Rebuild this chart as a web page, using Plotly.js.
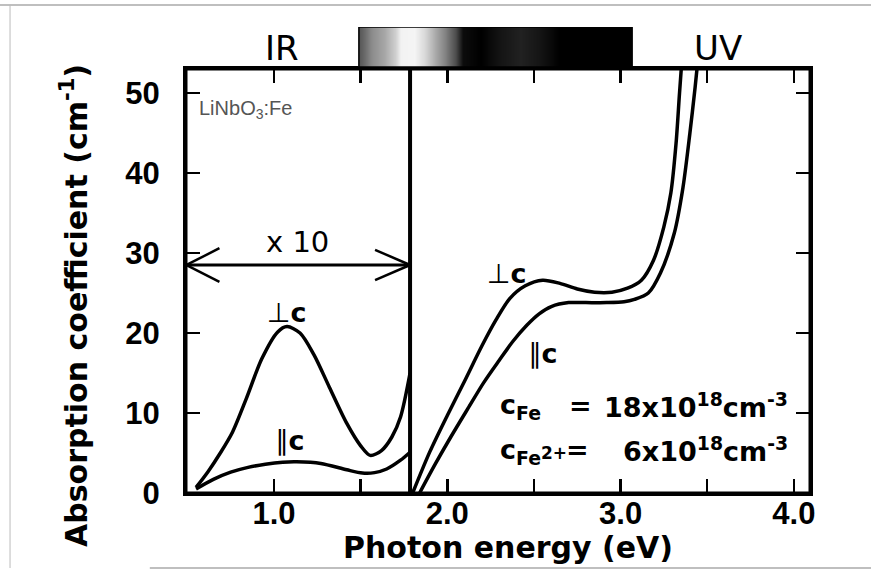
<!DOCTYPE html>
<html>
<head>
<meta charset="utf-8">
<script src="https://cdn.plot.ly/plotly-3.0.1.min.js"></script>
<style>html,body{margin:0;padding:0;background:#fff;}#chart{width:871px;height:576px;}</style>
</head>
<body>
<div id="chart"></div>
<script>
// IR region (values x10)
const ePerpIR = [0.55, 0.62, 0.69, 0.76, 0.84, 0.93, 1.02, 1.075, 1.15, 1.23, 1.32, 1.42, 1.50, 1.555, 1.62, 1.68, 1.73, 1.785];
const aPerpIR = [0.7, 2.7, 5.0, 7.6, 11.8, 16.8, 20.1, 20.8, 20.0, 17.3, 13.2, 8.7, 5.9, 4.7, 5.3, 7.0, 9.5, 15.0];
const eParIR  = [0.55, 0.65, 0.75, 0.85, 0.95, 1.05, 1.13, 1.27, 1.42, 1.51, 1.58, 1.65, 1.73, 1.785];
const aParIR  = [0.5, 1.7, 2.6, 3.2, 3.6, 3.85, 3.9, 3.7, 2.9, 2.5, 2.55, 3.0, 4.1, 5.1];
// visible / UV region
const ePerpUV = [1.80, 1.90, 2.00, 2.10, 2.20, 2.28, 2.36, 2.45, 2.55, 2.65, 2.75, 2.85, 2.95, 3.04, 3.12, 3.19, 3.25, 3.29, 3.32, 3.34, 3.36];
const aPerpUV = [0, 5.2, 9.7, 14.0, 18.4, 21.6, 24.3, 25.9, 26.6, 26.2, 25.5, 25.1, 25.1, 25.6, 26.6, 29.1, 33.3, 37.5, 43.7, 50, 56];
const eParUV  = [1.84, 1.93, 2.02, 2.12, 2.21, 2.30, 2.38, 2.46, 2.53, 2.60, 2.70, 2.80, 2.92, 3.02, 3.08, 3.16, 3.23, 3.31, 3.36, 3.40, 3.43, 3.45];
const aParUV  = [0, 3.6, 7.0, 10.6, 13.8, 16.6, 19.0, 21.0, 22.4, 23.3, 23.8, 23.8, 23.8, 23.9, 24.2, 25.0, 27.5, 32.5, 38.2, 45, 50.7, 55];
// spectrum bar (grey level along photon energy)
const barE     = [1.49, 1.495, 1.525, 1.565, 1.64, 1.70, 1.727, 1.81, 1.87, 1.93, 1.99, 2.045, 2.085, 2.19, 2.30, 2.42, 2.535, 2.65, 3.06, 3.066];
const barLevel = [0.35, 0.35, 0.42, 0.55, 0.66, 0.82, 0.95, 0.96, 0.85, 0.66, 0.5, 0.3, 0.05, 0.0, 0.08, 0.13, 0.08, 0.0, 0.0, 0.0];
// axes ticks
const xTickVals = [1, 1.5, 2, 2.5, 3, 3.5, 4];
const xTickText = ['1.0', '', '2.0', '', '3.0', '', '4.0'];
const yTickVals = [0, 10, 20, 30, 40, 50];
const yTickText = ['0', '10', '20', '30', '40', '50'];
const irBoundary = 1.785;

const lineStyle = {color: '#000', width: 3.5, shape: 'spline', smoothing: 0.8};
const traces = [
  {x: barE, y: [0.25, 0.75], z: [barLevel, barLevel], type: 'heatmap', xaxis: 'x', yaxis: 'y2',
   colorscale: [[0, '#000'], [1, '#fff']], zmin: 0, zmax: 1, showscale: false, zsmooth: 'best', hoverinfo: 'skip'},
  {x: ePerpIR, y: aPerpIR, mode: 'lines', line: lineStyle, hoverinfo: 'skip'},
  {x: eParIR, y: aParIR, mode: 'lines', line: lineStyle, hoverinfo: 'skip'},
  {x: ePerpUV, y: aPerpUV, mode: 'lines', line: lineStyle, hoverinfo: 'skip'},
  {x: eParUV, y: aParUV, mode: 'lines', line: lineStyle, hoverinfo: 'skip'}
];

const boldFont = {family: 'DejaVu Sans', size: 27, color: '#000', weight: 'bold'};
const arrowY = 28.5;
const shapes = [
  {type: 'line', xref: 'x', yref: 'y', x0: irBoundary, x1: irBoundary, y0: 0, y1: 53, line: {color: '#000', width: 4}},
  {type: 'line', xref: 'x', yref: 'y', x0: 0.495, x1: irBoundary, y0: arrowY, y1: arrowY, line: {color: '#000', width: 3}},
  {type: 'line', xref: 'x', yref: 'y', x0: 0.495, x1: 0.685, y0: arrowY, y1: arrowY + 2.1, line: {color: '#000', width: 2.5}},
  {type: 'line', xref: 'x', yref: 'y', x0: 0.495, x1: 0.685, y0: arrowY, y1: arrowY - 2.1, line: {color: '#000', width: 2.5}},
  {type: 'line', xref: 'x', yref: 'y', x0: irBoundary, x1: 1.583, y0: arrowY, y1: arrowY + 1.9, line: {color: '#000', width: 2.5}},
  {type: 'line', xref: 'x', yref: 'y', x0: irBoundary, x1: 1.583, y0: arrowY, y1: arrowY - 1.9, line: {color: '#000', width: 2.5}},
  {type: 'rect', xref: 'x', yref: 'y2', x0: 1.49, x1: 3.066, y0: 0, y1: 1, line: {color: '#000', width: 1.5}},
  {type: 'rect', xref: 'x domain', yref: 'y domain', x0: 0, x1: 1, y0: 0, y1: 1, line: {color: '#000', width: 3}},
  {type: 'line', xref: 'paper', yref: 'paper', x0: -0.3, x1: 1.1, y0: 1.0317, y1: 1.0317, line: {color: '#aaa', width: 1.5}},
  {type: 'line', xref: 'paper', yref: 'paper', x0: -0.282, x1: -0.282, y0: 1.0317, y1: -0.1586, line: {color: '#bbb', width: 1}},
  {type: 'line', xref: 'paper', yref: 'paper', x0: -0.058, x1: 1.1, y0: -0.1586, y1: -0.1586, line: {color: '#aaa', width: 1.5}}
];

const annotations = [
  {xref: 'paper', yref: 'paper', x: -0.1779, y: 0.3975, textangle: -90, showarrow: false, xanchor: 'center', yanchor: 'middle',
   text: 'Absorption coefficient (cm<sup>-1</sup>)', font: {family: 'DejaVu Sans', size: 30, color: '#000', weight: 'bold'}},
  {xref: 'paper', yref: 'paper', x: 0.516, y: -0.1142, showarrow: false, xanchor: 'center', yanchor: 'middle',
   text: 'Photon energy (eV)', font: {family: 'DejaVu Sans', size: 30, color: '#000', weight: 'bold'}},
  {xref: 'paper', yref: 'paper', x: 0.1538, y: 0.9408, showarrow: false, xanchor: 'center', yanchor: 'middle',
   text: 'IR', font: {family: 'DejaVu Sans', size: 34, color: '#000'}},
  {xref: 'paper', yref: 'paper', x: 0.8526, y: 0.9408, showarrow: false, xanchor: 'center', yanchor: 'middle',
   text: 'UV', font: {family: 'DejaVu Sans', size: 34, color: '#000'}},
  {x: 0.555, y: 47.9, showarrow: false, xanchor: 'left', yanchor: 'middle',
   text: 'LiNbO<sub>3</sub>:Fe', font: {family: 'Liberation Sans', size: 20, color: '#555'}},
  {x: 1.133, y: 31.4, showarrow: false, xanchor: 'center', yanchor: 'middle',
   text: 'x 10', font: {family: 'DejaVu Sans', size: 29, color: '#000'}},
  {x: 1.075, y: 22.6, showarrow: false, xanchor: 'center', yanchor: 'middle',
   text: '⊥<b>c</b>', font: {family: 'DejaVu Sans', size: 27, color: '#000'}},
  {x: 1.092, y: 6.6, showarrow: false, xanchor: 'center', yanchor: 'middle',
   text: '∥<b>c</b>', font: {family: 'DejaVu Sans', size: 27, color: '#000'}},
  {x: 2.345, y: 27.4, showarrow: false, xanchor: 'center', yanchor: 'middle',
   text: '⊥<b>c</b>', font: {family: 'DejaVu Sans', size: 27, color: '#000'}},
  {x: 2.55, y: 17.5, showarrow: false, xanchor: 'center', yanchor: 'middle',
   text: '∥<b>c</b>', font: {family: 'DejaVu Sans', size: 27, color: '#000'}},
  {x: 2.293, y: 10.8, showarrow: false, xanchor: 'left', yanchor: 'middle',
   text: 'c<sub>Fe</sub>', font: boldFont},
  {x: 2.77, y: 11.0, showarrow: false, xanchor: 'center', yanchor: 'middle',
   text: '=', font: boldFont},
  {x: 3.98, y: 11.0, showarrow: false, xanchor: 'right', yanchor: 'middle',
   text: '18x10<sup>18</sup>cm<sup>-3</sup>', font: boldFont},
  {x: 2.293, y: 5.2, showarrow: false, xanchor: 'left', yanchor: 'middle',
   text: 'c<sub>Fe</sub><span style="font-size:17px">2+</span>', font: boldFont},
  {x: 2.754, y: 5.4, showarrow: false, xanchor: 'center', yanchor: 'middle',
   text: '=', font: boldFont},
  {x: 3.98, y: 5.4, showarrow: false, xanchor: 'right', yanchor: 'middle',
   text: '6x10<sup>18</sup>cm<sup>-3</sup>', font: boldFont}
];

const tickFont = {family: 'Liberation Sans', size: 31, color: '#000', weight: 'bold'};
const layout = {
  width: 871, height: 576,
  margin: {l: 186, r: 61, t: 20, b: 83},
  paper_bgcolor: '#fff', plot_bgcolor: '#fff',
  showlegend: false,
  xaxis: {range: [0.492, 4.093], domain: [0, 1], tickvals: xTickVals, ticktext: xTickText,
          ticks: 'inside', ticklen: 14, tickwidth: 2.5, tickcolor: '#000',
          showline: true, linecolor: '#000', linewidth: 3, mirror: 'ticks',
          showgrid: false, zeroline: false, tickfont: tickFont, ticklabelstandoff: -9, fixedrange: true},
  yaxis: {range: [0, 53], domain: [0, 0.8964], tickvals: yTickVals, ticktext: yTickText,
          ticks: 'inside', ticklen: 14, tickwidth: 2.5, tickcolor: '#000',
          showline: true, linecolor: '#000', linewidth: 3, mirror: 'ticks',
          showgrid: false, zeroline: false, tickfont: tickFont, ticklabelstandoff: 17, fixedrange: true},
  yaxis2: {domain: [0.9006, 0.9852], range: [0, 1], anchor: 'x', visible: false, fixedrange: true},
  shapes: shapes,
  annotations: annotations
};

Plotly.newPlot('chart', traces, layout, {staticPlot: true, displayModeBar: false});
</script>
</body>
</html>
